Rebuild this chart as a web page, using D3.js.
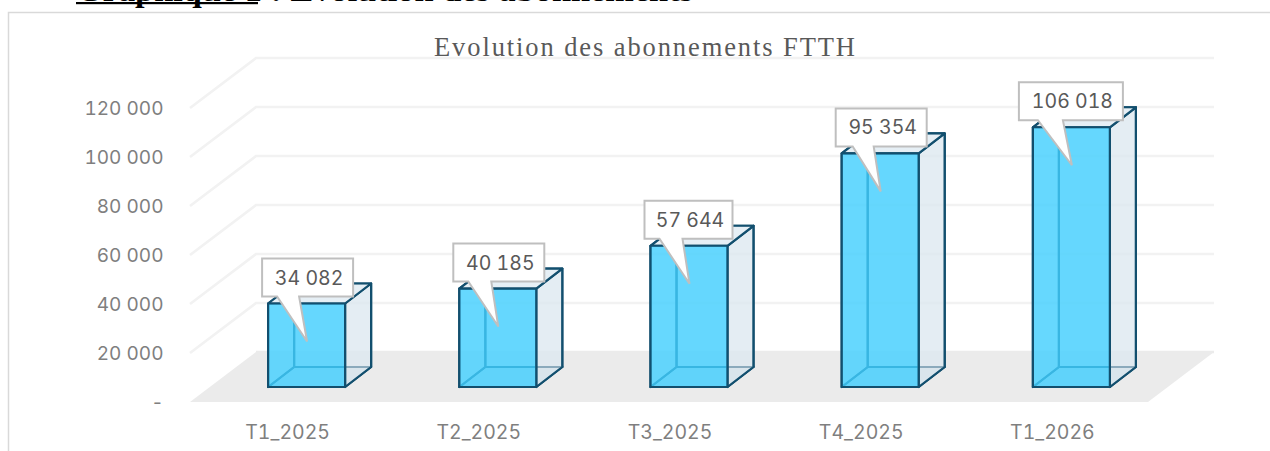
<!DOCTYPE html>
<html><head><meta charset="utf-8">
<script src="https://cdn.jsdelivr.net/npm/d3@7"></script>
<style>html,body{margin:0;padding:0;background:#fff;overflow:hidden}svg{display:block}.num{font-variant-numeric:tabular-nums;font-feature-settings:"tnum"}</style>
</head><body><div id="c"></div>
<script>
const categories=["T1_2025","T2_2025","T3_2025","T4_2025","T1_2026"];
const values=[34082,40185,57644,95354,106018];
const yTicks=[0,20000,40000,60000,80000,100000,120000];
const titleText="Evolution des abonnements FTTH";
const headingText="Graphique 1 : Evolution des abonnements";

const W=1270,H=451;
const depthX=26,depthY=-20,wallX=66,wallY=-50,frontOff=15;
const fmt=v=>v===0?"-":d3.format(",")(v).replace(/,/g," ");
const svg=d3.select("#c").append("svg").attr("width",W).attr("height",H);
const x=d3.scaleBand().domain(categories).range([192,1148]);
const y=d3.scaleLinear().domain([0,120000]).range([387,93]);

svg.append("path").attr("d",`M8.5,${H}V12.5H${W}`).attr("fill","none").attr("stroke","#d9d9d9").attr("stroke-width",1.5);

svg.append("text").attr("x",76).attr("y",0.5).attr("font-family","Liberation Serif").attr("font-weight","bold")
  .attr("font-size",32).attr("fill","#000").attr("textLength",617).attr("lengthAdjust","spacingAndGlyphs").text(headingText);
svg.append("rect").attr("x",76).attr("y",2).attr("width",182).attr("height",2.2).attr("fill","#000");

const fy=y(0)+frontOff;
svg.append("polygon").attr("fill","#ebebeb")
  .attr("points",[[190,fy],[1148,fy],[1148+wallX,fy+wallY],[190+wallX,fy+wallY]].join(" "));

svg.append("g").selectAll("path").data(yTicks.slice(1).concat(0)).join("path")
  .attr("d",v=>{const f=y(v)+frontOff;return v===0?`M${190+wallX},${f+wallY}H1214`:`M190,${f}L${190+wallX},${f+wallY}H1214`;})
  .attr("fill","none").attr("stroke",v=>v===0?"#ebebeb":"#f2f2f2").attr("stroke-width",2.6);

svg.append("text").attr("x",644.5).attr("y",56).attr("text-anchor","middle").attr("font-family","Liberation Serif")
  .attr("font-size",26.5).attr("fill","#595959").attr("textLength",421).text(titleText);

const yAxis=svg.append("g").attr("transform",`translate(168,${frontOff})`)
  .call(d3.axisLeft(y).tickValues(yTicks).tickFormat(fmt).tickSize(0).tickPadding(4.5));
const xAxis=svg.append("g").attr("transform",`translate(0,${fy+23})`)
  .call(d3.axisBottom(x).tickSize(0).tickPadding(0));
[yAxis,xAxis].forEach(a=>{a.select(".domain").remove();
  a.selectAll("text").attr("class","num").attr("font-family","Inter").attr("font-size",19.5).attr("fill","#7f7f7f");});
yAxis.selectAll("text").attr("font-size",19);

const stroke="#124f6e";
const bars=svg.append("g").selectAll("g").data(values).join("g")
  .attr("transform",(d,i)=>`translate(${x(categories[i])+x.bandwidth()/2-19.5},0)`);
const bw=77;
const face=(sel,fn,fill,op,st,sw)=>sel.append("polygon").attr("points",d=>fn(d).join(" "))
  .attr("fill",fill).attr("fill-opacity",op).attr("stroke",st).attr("stroke-width",sw).attr("stroke-linejoin","round");
const b=y(0);
face(bars,d=>[[depthX,y(d)+depthY],[bw+depthX,y(d)+depthY],[bw+depthX,b+depthY],[depthX,b+depthY]],"#dfe9f0",0.5,stroke,2.2);
face(bars,d=>[[0,b],[bw,b],[bw+depthX,b+depthY],[depthX,b+depthY]],"#c4d8e4",0.6,stroke,2.2);
face(bars,d=>[[0,y(d)],[depthX,y(d)+depthY],[depthX,b+depthY],[0,b]],"#d6e4ee",0.3,stroke,2.2);
face(bars,d=>[[bw,y(d)],[bw+depthX,y(d)+depthY],[bw+depthX,b+depthY],[bw,b]],"#dce8f0",0.6,stroke,2.2);
face(bars,d=>[[0,y(d)],[bw,y(d)],[bw+depthX,y(d)+depthY],[depthX,y(d)+depthY]],"#e4eef4",0.8,stroke,2.2);
face(bars,d=>[[0,y(d)],[bw,y(d)],[bw,b],[0,b]],"#42d0ff",0.8,stroke,2.2);

const call=svg.append("g").selectAll("g").data(values).join("g")
  .attr("transform",(d,i)=>`translate(${x(categories[i])+x.bandwidth()/2-19.5},${y(d)})`);
const boxW=i=>i===4?104:(i===2?88:91), boxL=i=>i===4?-14:-6;
const baseL=[9,9,9,11,5], baseR=[31,32,32,32,30];
call.append("path").attr("d",(d,i)=>{
    const L=boxL(i),R=L+boxW(i),T=-45,Bo=-7;
    return `M${L},${T}H${R}V${Bo}H${baseR[i]}L39,38L${baseL[i]},${Bo}H${L}Z`;})
  .attr("fill","#fff").attr("stroke","#bfbfbf").attr("stroke-width",2);
call.append("text").attr("class","num").attr("x",(d,i)=>boxL(i)+boxW(i)/2+1.5).attr("y",-26).attr("dy","0.36em")
  .attr("text-anchor","middle").attr("font-family","Inter").attr("font-size",19.5).attr("fill","#595959").text(d=>fmt(d));
</script></body></html>
